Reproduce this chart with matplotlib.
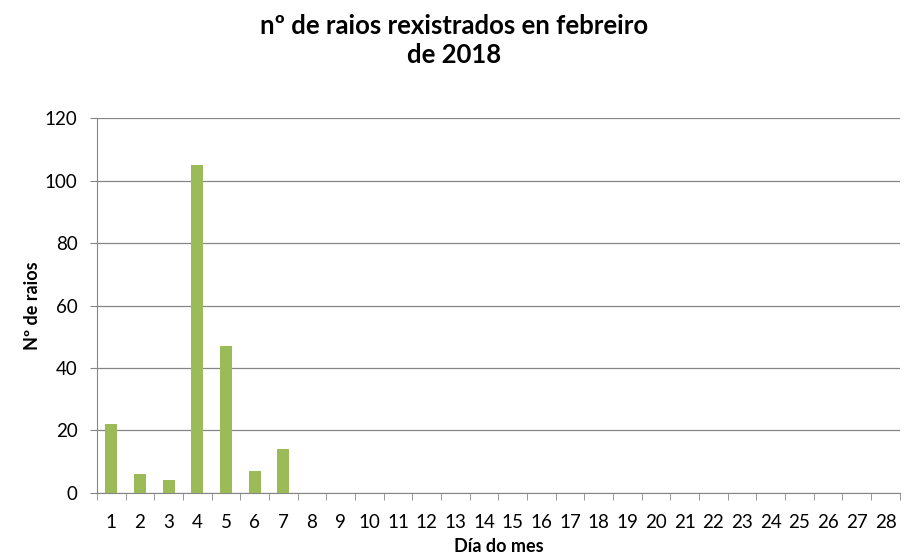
import matplotlib
matplotlib.use("Agg")
import matplotlib.pyplot as plt
import numpy as np

plt.rcParams['font.family'] = ['Lato', 'DejaVu Sans']

days = list(range(1, 29))
raios = [22, 6, 4, 105, 47, 7, 14] + [0] * 21

fig = plt.figure(figsize=(9.08, 5.58), dpi=100)
ax = fig.add_axes([0.1068, 0.1165, 0.8842, 0.672])

ax.bar(days, raios, width=0.42, color='#9BBB59', zorder=3)

ax.set_xlim(0.5, 28.5)
ax.set_ylim(0, 120)
ax.set_yticks(range(0, 121, 20))
ax.set_xticks(days)
ax.set_xticks(np.arange(0.5, 29, 1), minor=True)
ax.tick_params(axis='x', which='major', length=0, labelsize=13.5, pad=15)
ax.tick_params(axis='x', which='minor', length=5, color='#868686')
ax.tick_params(axis='y', length=5, color='#868686', labelsize=13.5, pad=9)

ax.grid(axis='y', color='#868686', linewidth=0.9, zorder=0)
for s in ['top', 'right']:
    ax.spines[s].set_visible(False)
for s in ['left', 'bottom']:
    ax.spines[s].set_color('#868686')

ax.set_xlabel('Día do mes', fontsize=13, fontweight='bold', labelpad=5)
ax.set_ylabel('Nº de raios', fontsize=13, fontweight='bold', labelpad=3)
fig.suptitle('nº de raios rexistrados en febreiro\nde 2018', fontsize=18.5,
             fontweight='bold', y=0.975, linespacing=1.25)

fig.savefig('out.png', dpi=100)
